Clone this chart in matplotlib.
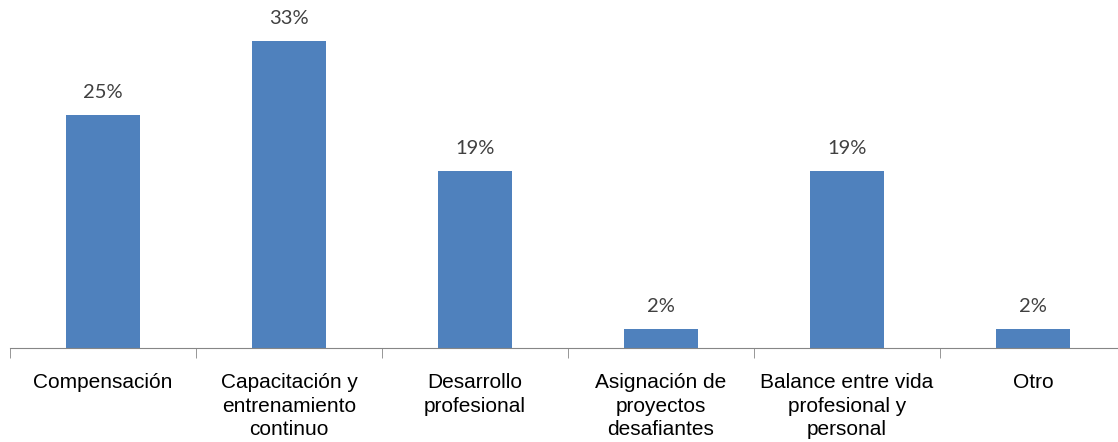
import matplotlib
matplotlib.use("Agg")
import matplotlib.pyplot as plt

categories = ["Compensación", "Capacitación y\nentrenamiento\ncontinuo", "Desarrollo\nprofesional",
              "Asignación de\nproyectos\ndesafiantes", "Balance entre vida\nprofesional y\npersonal", "Otro"]
values = [25, 33, 19, 2, 19, 2]
labels = ["25%", "33%", "19%", "2%", "19%", "2%"]

W, H = 1118, 442
fig = plt.figure(figsize=(W / 100, H / 100), dpi=100)
# one category slot is 186 px wide, axis starts at x=10 and runs off the right edge
ax = fig.add_axes([10 / W, 94 / H, 1108 / W, 335 / H])

x = list(range(len(values)))
ax.bar(x, values, width=74 / 186, color="#4F81BD", zorder=2)

for xi, v, lab in zip(x, values, labels):
    ax.annotate(lab, (xi, v), xytext=(0, 10), textcoords="offset points",
                ha="center", va="bottom", fontsize=14.5, family="Lato", color="#404040")

for s in ["top", "right", "left"]:
    ax.spines[s].set_visible(False)
ax.spines["bottom"].set_color("#868686")
ax.set_yticks([])

ax.set_xticks(x)
ax.set_xticklabels(categories, fontsize=15, family="Liberation Sans", linespacing=1.3)
ax.tick_params(axis="x", which="major", length=0, pad=18)
ax.set_xticks([i - 0.5 for i in range(len(values) + 1)], minor=True)
ax.tick_params(axis="x", which="minor", length=7, color="#868686", direction="out")

# limits last, set_xticks would widen them otherwise
ax.set_xlim(-0.5, -0.5 + 1108 / 186)
ax.set_ylim(0, 36)

fig.savefig("out.png", dpi=100)
